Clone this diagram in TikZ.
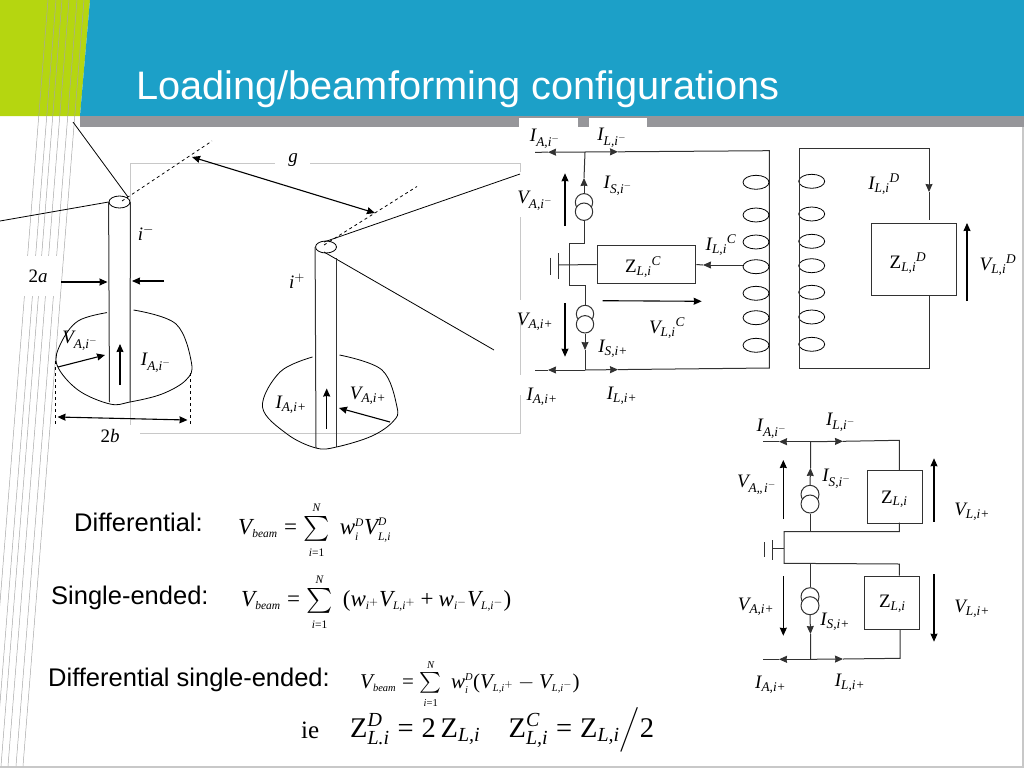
\RequirePackage{fix-cm}
\documentclass[tikz,border=0pt]{standalone}
\usepackage{amsmath}
\usepackage{fontspec}
\setmainfont{Liberation Serif}
\newfontfamily\arialfont{Liberation Sans}
\usetikzlibrary{arrows.meta,shapes.geometric}
\definecolor{hdrblue}{RGB}{28,160,200}
\definecolor{hdrgreen}{RGB}{181,214,16}
\definecolor{hdrgrey}{RGB}{150,150,154}
\definecolor{framegrey}{RGB}{200,200,200}
\definecolor{wiregrey}{RGB}{50,50,50}
\newcommand{\ti}{\textit}
\newcommand{\tu}{\textup}
\newcommand{\lbl}[3]{\ti{#1}_{\ti{#2}#3}}
\newcommand{\fsz}[1]{\fontsize{#1}{#1}\selectfont}
% small scripts and Times like signs for the equations
\newcommand{\eqfnt}[1]{\fsz{#1}\thickmuskip=5mu\relax}
\newcommand{\sm}[1]{{\scriptscriptstyle\ti{#1}}}
\newcommand{\eqs}{\mathrel{\tu{=}}}
\newcommand{\vbeam}{\ti{V}_{\sm{beam}}\eqs\sum\limits_{\sm{i}\scriptscriptstyle\mathord{\tu{=}}\tu{1}}^{\sm{N}}}
\begin{document}
\begin{tikzpicture}[x=1pt,y=-1pt,>={Stealth[length=8pt,width=7pt,inset=0.5pt]},
  stripe/.style={draw=gray!70,line width=.5pt},
  frameln/.style={draw=framegrey,line width=.7pt},
  ant/.style={draw=black,line width=.8pt},
  anttop/.style={ant,ellipse,minimum width=21pt,minimum height=12pt,inner sep=0pt,fill=white},
  stem/.style={draw=black!80,line width=1pt},
  wire/.style={draw=wiregrey,line width=1pt},
  bigarr/.style={draw=black,line width=1.1pt},
  lab/.style={font=\fsz{19},inner sep=0pt},
  mask/.style={lab,fill=white,minimum width=42pt,minimum height=40pt},
  srcring/.style={draw=wiregrey,line width=1pt,circle,inner sep=0pt,minimum size=17.4pt},
  zbox/.style={draw=wiregrey,line width=1pt,inner sep=0pt,anchor=north west},
  hdrtext/.style={font=\arialfont\fsz{25.5},inner sep=0pt,anchor=west},
  eqn/.style={inner sep=0pt,anchor=west}]
\useasboundingbox (0,0) rectangle (1024,768);
% header
\fill[hdrgreen] (0,0) -- (90,0) -- (80,116) -- (0,116) -- cycle;
\fill[hdrblue] (90,0) -- (1024,0) -- (1024,116) -- (80,116) -- cycle;
\fill[hdrgrey] (80,116) rectangle (1024,127);
\fill[white] (519,118) rectangle (578,127);
\fill[white] (589,118) rectangle (647,127);
\fill[framegrey] (1022,127) rectangle (1024,768);
\fill[framegrey] (0,766) rectangle (1024,768);
\node[font=\arialfont\fsz{39.75},text=white,inner sep=0pt,anchor=west] (title) at (136,89) {Loading/beamforming configurations};
\foreach \xs in {48,56,62,69,77,84}
  \draw[stripe] (\xs,0) -- (\xs-61,766);
% frame round the antennas
\draw[frameln] (130,163) -- (275,163);
\draw[frameln] (310,163) -- (520,163) -- (520,172);
\draw[frameln] (520,217) -- (520,300);
\draw[frameln] (520,322) -- (520,375);
\draw[frameln] (520,395) -- (520,433) -- (140,433);
\draw[frameln] (130,163) -- (130,425);
% left antenna
\node[mask] (lbTwoA) at (38,276) {$\tu{2}\ti{a}$};
\node[anttop] (topL) at (119.5,202) {};
\coordinate (tailL) at (73,122);
\coordinate (feedL) at (0,221);
\coordinate (dashL) at (212,141);
\draw[ant] (tailL) -- (128,197);
\draw[ant] (feedL) -- (topL.west);
\draw[ant,dashed] (122,201) -- (dashL);
\draw[stem] (topL.west) -- (109.5,402);
\draw[stem] (topL.east) -- (130,402);
\draw[ant] plot[smooth,tension=.6] coordinates {(107,312.6) (78,321) (61,343) (57,365) (78,390) (110,404) (130,402) (162,394) (186,380) (191.5,363) (176,324) (133.5,310)};
% right antenna
\node[anttop] (topR) at (326,247) {};
\coordinate (feedRa) at (520,174);
\coordinate (feedRb) at (494,350);
\coordinate (dashR) at (417,186.5);
\draw[ant] (324,242) -- (feedRa);
\draw[ant] (324,252) -- (feedRb);
\draw[ant,dashed] (324,245) -- (dashR);
\draw[stem] (topR.west) -- (316,448);
\draw[stem] (336.5,258) -- (336.5,447);
\draw[ant] plot[smooth,tension=.6] coordinates {(312.5,357) (280,372) (262.5,407) (287,434) (316,448) (336.5,447) (372,436) (393.5,421) (397,407) (382,370) (339.5,355)};
% dimension arrows
\draw[bigarr,<->] (192,157) -- (375,213);
\draw[bigarr,->] (61,282) -- (107.5,282);
\draw[bigarr,->] (164,281) -- (132,281);
\draw[bigarr,->] (120,385) -- (120,344);
\draw[bigarr,->] (58,367) -- (105,355);
\draw[bigarr,<->] (57.5,417) -- (187.5,420);
\draw[bigarr,->] (326.7,429) -- (326.7,388.5);
\draw[bigarr,->] (390,422) -- (339,408);
\draw[ant,dashed] (55,361) -- (55,426);
\draw[ant,dashed] (190,373) -- (190,426);
\node[lab,fill=white,inner xsep=5pt] (lbGap) at (293,160) {$\ti{g}$};
\node[lab] (lbIm) at (146,233) {$\ti{i}^{-}$};
\node[lab] (lbIp) at (297,281) {$\ti{i}^{+}$};
\node[lab] (lbVaL) at (80,341) {$\lbl{V}{A,i}{^{-}}$};
\node[lab] (lbIaL) at (156,363) {$\lbl{I}{A,i}{^{-}}$};
\node[lab] (lbIaR) at (291,405) {$\lbl{I}{A,i+}{}$};
\node[lab] (lbVaR) at (368,396) {$\lbl{V}{A,i+}{}$};
\node[lab] (lbTwoB) at (110,436) {$\tu{2}\ti{b}$};
% centre tapped circuit
\coordinate (lineTL) at (535,152.3);
\coordinate (tipTL) at (548,152.2);
\coordinate (jnT) at (585,152);
\coordinate (tipTR) at (618,151.8);
\coordinate (cornT) at (769.3,150.7);
\coordinate (lineBL) at (535,370);
\coordinate (tipBL) at (548,370);
\coordinate (jnB) at (585,370);
\coordinate (tipBR) at (618,369.6);
\coordinate (cornB) at (769.3,368);
\draw[wire] (lineTL) -- (tipTL);
\draw[wire,->] (jnT) -- (tipTL);
\draw[wire,->] (jnT) -- (tipTR);
\draw[wire] (tipTR) -- (cornT) -- (cornB) -- (tipBR);
\draw[wire,->] (jnB) -- (tipBR);
\draw[wire,->] (jnB) -- (tipBL);
\draw[wire] (lineBL) -- (tipBL);
\foreach \ya/\yb in {182.3/181.3,215/214,242/241.3,266.7/265.7,293.3/292.3,317.7/317,345.3/344.3} {
  \draw[ant] (756,\ya) ellipse (13 and 7);
  \draw[ant] (811.7,\yb) ellipse (13 and 7);
}
\node[zbox,minimum width=84.7pt,minimum height=71.7pt] (zD) at (871.3,223.3) {};
\node[zbox,minimum width=98.6pt,minimum height=38.6pt] (zC) at (596.7,244.7) {};
\coordinate (secT) at (799,148.3);
\coordinate (secB) at (799,368.3);
\coordinate (secTR) at (929,148.3);
\coordinate (secBR) at (929,368.3);
\coordinate (tipD) at (929,192);
\draw[wire] (secT) -- (secB) -- (secBR) -- (929,295);
\draw[wire,->] (secT) -- (secTR) -- (tipD);
\draw[wire] (tipD) -- (929,220);
\node[srcring] (srcTa) at (584,202.3) {};
\node[srcring,fill=white] (srcTb) at (584,211.7) {};
\node[srcring] (srcBa) at (585,314) {};
\node[srcring,fill=white] (srcBb) at (585,324.3) {};
\coordinate (tipSt) at (584,178);
\coordinate (tipSb) at (585,350);
\draw[wire,->] (srcTa.north) -- (tipSt);
\draw[wire] (tipSt) -- (jnT);
\draw[wire,->] (srcBb.south) -- (tipSb);
\draw[wire] (tipSb) -- (jnB);
\draw[wire] (srcTb.south) -- (584,243) -- (569.3,243) -- (569.3,285) -- (585,285) -- (srcBa.north);
\coordinate (gateA) at (558.3,265);
\coordinate (tapA) at (742.7,265);
\coordinate (tipZ) at (703,265);
\draw[wire] (gateA) -- (zC.west);
\draw[wire,->] (tapA) -- (tipZ);
\draw[wire] (tipZ) -- (zC.east);
\draw[wire] (558.3,253.3) -- (558.3,279.3);
\draw[wire] (550.7,257.7) -- (550.7,275);
\draw[bigarr,->] (967,301) -- (967,223);
\draw[bigarr,->] (602.7,300.7) -- (701.7,301.3);
\draw[bigarr,->] (565,226) -- (565,173.3);
\draw[bigarr,->] (565,303.3) -- (565,356.7);
\node[lab] (lbIaTm) at (545,139) {$\lbl{I}{A,i}{^{-}}$};
\node[lab] (lbIlTm) at (612,138) {$\lbl{I}{L,i}{^{-}}$};
\node[lab] (lbIsTm) at (618,186) {$\lbl{I}{S,i}{^{-}}$};
\node[lab] (lbVaTm) at (535,201) {$\lbl{V}{A,i}{^{-}}$};
\node[lab] (lbIlC) at (721,245) {$\lbl{I}{L,i}{}{}^{\ti{C}}$};
\node[lab] (lbZC) at (643,267) {$\lbl{\tu{Z}}{L,i}{}{}^{\ti{C}}$};
\node[lab] (lbZD) at (908,263) {$\lbl{\tu{Z}}{L,i}{}{}^{\ti{D}}$};
\node[lab] (lbVlD) at (998,265) {$\lbl{V}{L,i}{}{}^{\ti{D}}$};
\node[lab] (lbIlD) at (884,184) {$\lbl{I}{L,i}{}{}^{\ti{D}}$};
\node[lab] (lbVaTp) at (535,322) {$\lbl{V}{A,i+}{}$};
\node[lab] (lbVlC) at (667,328) {$\lbl{V}{L,i}{}{}^{\ti{C}}$};
\node[lab] (lbIsTp) at (613,349) {$\lbl{I}{S,i+}{}$};
\node[lab] (lbIaTp) at (542,397) {$\lbl{I}{A,i+}{}$};
\node[lab] (lbIlTp) at (622,396) {$\lbl{I}{L,i+}{}$};
% two load circuit
\node[zbox,minimum width=54.4pt,minimum height=52.4pt] (zU) at (867.3,470.3) {};
\node[zbox,minimum width=55pt,minimum height=53.3pt] (zV) at (864.3,575.7) {};
\coordinate (lnTL) at (763,441.7);
\coordinate (arTL) at (779,441.7);
\coordinate (jT) at (810.7,441.7);
\coordinate (arTR) at (843,441.3);
\coordinate (lnBL) at (763,659.3);
\coordinate (arBL) at (779,659.3);
\coordinate (jB) at (810.7,659.3);
\coordinate (arBR) at (843,659);
\draw[wire] (lnTL) -- (arTL);
\draw[wire,->] (jT) -- (arTL);
\draw[wire,->] (jT) -- (arTR);
\draw[wire] (arTR) -- (899.3,440.3) -- (899.3,470.3);
\draw[wire] (899.3,522.7) -- (899.3,531.7) -- (784,531.7) -- (784,563.3) -- (899.3,564) -- (899.3,575.7);
\draw[wire] (900,629) -- (900,658.3) -- (arBR);
\draw[wire,->] (jB) -- (arBR);
\draw[wire,->] (jB) -- (arBL);
\draw[wire] (lnBL) -- (arBL);
\node[srcring,minimum size=18pt] (srcUa) at (810,494.3) {};
\node[srcring,minimum size=18pt,fill=white] (srcUb) at (810,504) {};
\node[srcring,minimum size=18pt] (srcVa) at (810,596.7) {};
\node[srcring,minimum size=18pt,fill=white] (srcVb) at (810,605.7) {};
\coordinate (arSu) at (810.5,468);
\coordinate (arSv) at (810.5,634);
\draw[wire,->] (srcUa.north) -- (arSu);
\draw[wire] (arSu) -- (jT);
\draw[wire,->] (srcVb.south) -- (arSv);
\draw[wire] (arSv) -- (jB);
\draw[wire] (srcUb.south) -- (810,531.7);
\draw[wire] (810,564) -- (srcVa.north);
\draw[wire] (773.3,548.3) -- (784,548.3);
\draw[wire] (772.7,540) -- (772.7,560);
\draw[wire] (764.3,542) -- (764.3,556.7);
\draw[bigarr,->] (783.3,519) -- (783.3,460);
\draw[bigarr,->] (783.3,576) -- (783.3,635.7);
\draw[bigarr,->] (934,521.7) -- (934,458.3);
\draw[bigarr,->] (934,574) -- (934,641.7);
\node[lab] (lbIaUm) at (771.7,429) {$\lbl{I}{A,i}{^{-}}$};
\node[lab] (lbIlUm) at (840.7,422.3) {$\lbl{I}{L,i}{^{-}}$};
\node[lab] (lbVaUm) at (756.7,485) {$\lbl{V}{A,,i}{^{-}}$};
\node[lab] (lbIsUm) at (836.7,479) {$\lbl{I}{S,i}{^{-}}$};
\node[lab] (lbZU) at (894.3,499.3) {$\lbl{\tu{Z}}{L,i}{}$};
\node[lab] (lbVlU) at (972,512) {$\lbl{V}{L,i+}{}$};
\node[lab] (lbVaUp) at (756,606.7) {$\lbl{V}{A,i+}{}$};
\node[lab] (lbZV) at (892.3,604) {$\lbl{\tu{Z}}{L,i}{}$};
\node[lab] (lbVlV) at (972,609) {$\lbl{V}{L,i+}{}$};
\node[lab] (lbIsUp) at (835,621.7) {$\lbl{I}{S,i+}{}$};
\node[lab] (lbIaUp) at (770.7,685) {$\lbl{I}{A,i+}{}$};
\node[lab] (lbIlUp) at (850,683) {$\lbl{I}{L,i+}{}$};
% equations
\node[hdrtext] (txDiff) at (74,522) {Differential:};
\node[hdrtext] (txSing) at (51,598) {Single-ended:};
\node[hdrtext] (txBoth) at (48,680) {Differential single-ended:};
\node[eqn,font=\eqfnt{23}] (eqDiff) at (238,530) {$\vbeam\;\ti{w}_{\sm{i}}^{\sm{D}}\ti{V}_{\sm{L,i}}^{\sm{D}}$};
\node[eqn,font=\eqfnt{23}] (eqSing) at (241,602) {$\vbeam\;\tu{(}\ti{w}_{\sm{i}^{+}}\ti{V}_{\sm{L,i}^{+}}\mathbin{\tu{+}}\ti{w}_{\sm{i}^{-}}\ti{V}_{\sm{L,i}^{-}}\tu{)}$};
\node[eqn,font=\eqfnt{21}] (eqBoth) at (360,684) {$\vbeam\;\ti{w}_{\sm{i}}^{\sm{D}}\tu{(}\ti{V}_{\sm{L,i}^{+}}-\ti{V}_{\sm{L,i}^{-}}\tu{)}$};
\node[eqn,font=\fsz{25}] (txIe) at (301,730) {ie};
\node[eqn,font=\fsz{28.5}] (eqZ) at (350,730) {$\tu{Z}_{\ti{L.i}}^{\ti{D}}\eqs\tu{2}\,\tu{Z}_{\ti{L,i}}\quad\tu{Z}_{\ti{L,i}}^{\ti{C}}\eqs\tu{Z}_{\ti{L,i}}\big/\tu{2}$};
\end{tikzpicture}
\end{document}
